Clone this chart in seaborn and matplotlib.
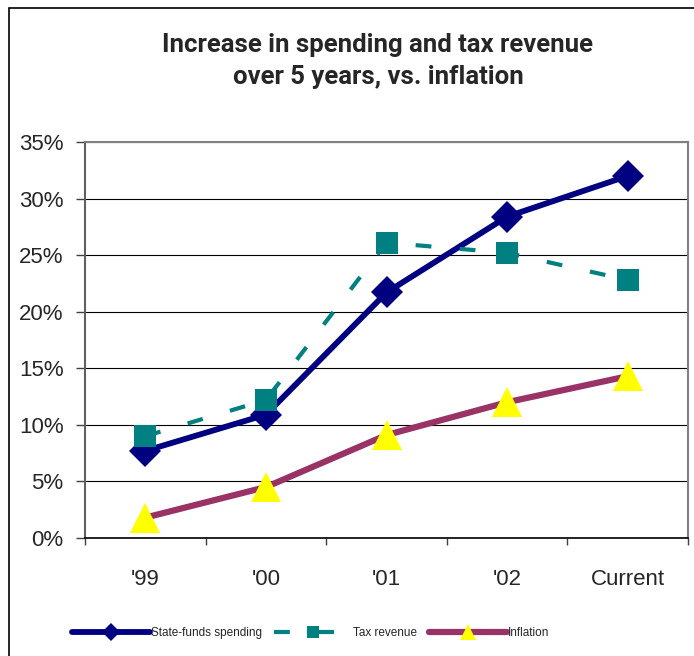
import matplotlib
matplotlib.use("Agg")
import matplotlib.pyplot as plt
import matplotlib.patches as mpatches
from matplotlib.ticker import PercentFormatter, FixedLocator
import seaborn as sns

# data (percent)
years = ["'99", "'00", "'01", "'02", "Current"]
state_spending = [7.7, 10.9, 21.7, 28.4, 32.0]
tax_revenue = [9.0, 12.2, 26.1, 25.2, 22.8]
inflation = [1.8, 4.5, 9.1, 12.0, 14.3]

sns.set_style("white")
plt.rcParams['font.family'] = ['Liberation Sans', 'DejaVu Sans']

fig = plt.figure(figsize=(6.94, 6.56), dpi=100)
ax = fig.add_axes([85 / 694, 1 - 538 / 656, 603 / 694, 396 / 656])

sns.lineplot(x=years, y=state_spending, ax=ax, color="#000080", lw=4.2, marker="D",
             markersize=16, markeredgewidth=0, label="State-funds spending", sort=False)
sns.lineplot(x=years, y=tax_revenue, ax=ax, color="#008080", lw=3.0, marker="s",
             markersize=16, markeredgewidth=0, linestyle=(0, (3.8, 6.8)),
             label="Tax revenue", sort=False)
sns.lineplot(x=years, y=inflation, ax=ax, color="#993366", lw=4.5, marker="^",
             markersize=21, markeredgewidth=0, markerfacecolor="#FFFF00",
             label="Inflation", sort=False)

ax.set_xlim(-0.5, 4.5)
ax.set_ylim(0, 35)
ax.set_yticks(range(0, 36, 5))
ax.yaxis.set_major_formatter(PercentFormatter(xmax=100, decimals=0))
ax.grid(axis="y", color="black", lw=0.8)
ax.grid(axis="x", visible=False)
ax.set_axisbelow(True)
ax.set_xlabel("")
ax.set_ylabel("")

# category boundaries get the small tick marks
ax.xaxis.set_minor_locator(FixedLocator([-0.5, 0.5, 1.5, 2.5, 3.5, 4.5]))
ax.tick_params(axis="x", which="major", length=0, pad=22, labelsize=16)
ax.tick_params(axis="x", which="minor", bottom=True, length=5, width=1, color="#404040")
ax.tick_params(axis="y", left=True, length=6.5, width=1, pad=9, labelsize=16, color="#404040")

for side in ["top", "right"]:
    ax.spines[side].set_color("#808080")
    ax.spines[side].set_linewidth(1.5)
ax.spines["left"].set_color("#606060")
ax.spines["left"].set_linewidth(1.5)
ax.spines["bottom"].set_color("black")
ax.spines["bottom"].set_linewidth(1.2)

fig.text(378 / 694, 1 - 61 / 656, "Increase in spending and tax revenue\nover 5 years, vs. inflation",
         ha="center", va="center", fontsize=18.5, family=['Roboto', 'DejaVu Sans'],
         weight=600, linespacing=1.4)

ax.legend(loc="center", bbox_to_anchor=(311 / 694, 1 - 633 / 656), bbox_transform=fig.transFigure,
          ncol=3, frameon=False, handlelength=6.6, handletextpad=0.1, columnspacing=1.0,
          numpoints=1, markerscale=0.55,
          prop={'family': ['Liberation Sans Narrow', 'Liberation Sans'], 'size': 8.5})

# outer chart frame (left and top edges visible)
fig.patches.append(mpatches.Rectangle((9 / 694, -0.5), 2, 1.5 - 8 / 656, transform=fig.transFigure,
                                      fill=False, edgecolor="black", lw=1.2))

fig.savefig("out.png", dpi=100)
